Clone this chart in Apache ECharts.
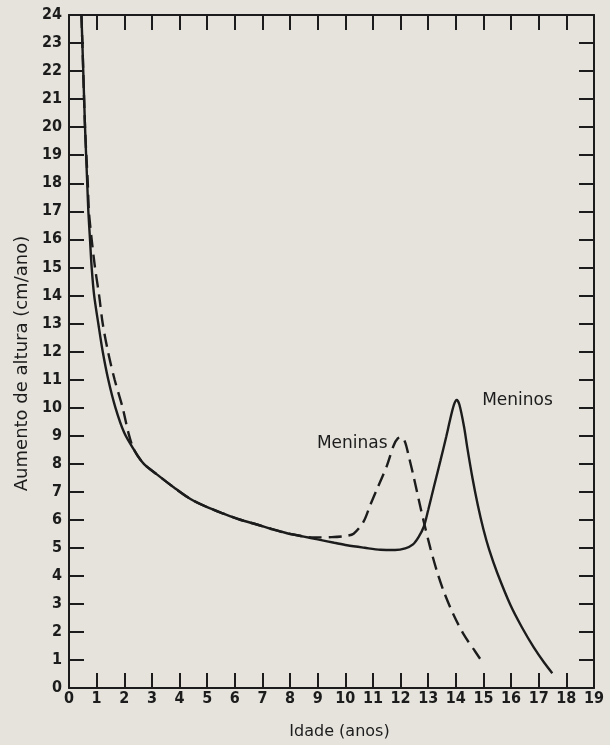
<!DOCTYPE html>
<html>
<head>
<meta charset="utf-8">
<script src="https://cdn.jsdelivr.net/npm/echarts@6/dist/echarts.min.js"></script>
<style>
html,body{margin:0;padding:0;background:#e4e2da;}
#chart{width:610px;height:745px;}
</style>
</head>
<body>
<div id="chart"></div>
<script>
// Age axis (years) and ticks
var xTickLabels = ['0','1','2','3','4','5','6','7','8','9','10','11','12','13','14','15','16','17','18','19'];
var yTickLabels = ['0','1','2','3','4','5','6','7','8','9','10','11','12','13','14','15','16','17','18','19','20','21','22','23','24'];

// Meninos (solid)
var boysAge  = [0.45,0.5,0.58,0.66,0.7,0.76,0.82,0.91,1.06,1.22,1.42,1.68,2.0,2.35,2.7,3.18,3.8,4.38,5.0,5.59,6.2,6.8,7.3,7.89,8.5,9.0,9.6,10.06,10.7,11.27,11.8,12.17,12.45,12.65,12.84,13.0,13.2,13.44,13.65,13.8,13.93,14.03,14.13,14.3,14.41,14.6,14.8,15.0,15.2,15.5,15.98,16.4,16.82,17.2,17.49];
var boysRate = [24,22.5,20,18,17,16,15,14,13,12,11,10,9.1,8.5,8.0,7.62,7.15,6.75,6.45,6.22,6.0,5.83,5.68,5.52,5.4,5.3,5.18,5.09,5.0,4.93,4.92,4.98,5.12,5.38,5.75,6.35,7.15,8.1,8.95,9.6,10.1,10.27,10.1,9.3,8.6,7.5,6.5,5.65,4.95,4.1,2.95,2.15,1.45,0.9,0.53];

// Meninas (dashed)
var girlsAge  = [0.45,0.5,0.58,0.68,0.72,0.82,0.94,1.09,1.22,1.41,1.65,1.94,2.15,2.35,2.7,3.18,3.8,4.38,5.0,5.59,6.2,6.8,7.3,7.89,8.4,8.84,9.5,10.0,10.3,10.66,10.9,11.15,11.51,11.75,11.9,12.05,12.17,12.3,12.47,12.65,12.84,13.08,13.32,13.56,13.9,14.29,14.7,15.01];
var girlsRate = [24,22.5,20,18,17,16,15,14,13,12,11,10,9.1,8.5,8.0,7.62,7.15,6.75,6.45,6.22,6.0,5.83,5.68,5.52,5.42,5.37,5.38,5.42,5.5,5.93,6.52,7.1,7.94,8.65,8.9,8.95,8.75,8.25,7.55,6.75,5.93,4.98,4.15,3.45,2.65,1.9,1.3,0.85];

var seriesNames = ['Meninos','Meninas'];
var boysLabelAt = [16.23, 10.24];
var girlsLabelAt = [10.25, 8.72];

function zip(a,b){ return a.map(function(v,i){ return [v,b[i]]; }); }

var ink = '#1c1c1c';
var tickFont = "'DejaVu Sans Condensed','Liberation Sans Narrow','Liberation Sans',sans-serif";
var textFont = "'DejaVu Sans','Liberation Sans',sans-serif";

function xAxisDef(pos, showLabels){
  return {
    type:'value', min:0, max:19, interval:1, position:pos,
    axisLine:{show:true, onZero:false, lineStyle:{color:ink, width:2}},
    axisTick:{show:true, inside:true, length:15, lineStyle:{color:ink, width:2}},
    axisLabel:{show:showLabels, margin:3, fontSize:16, fontWeight:'bold', color:ink, fontFamily:tickFont,
      formatter:function(v){ return xTickLabels[Math.round(v)]; }},
    splitLine:{show:false}
  };
}
function yAxisDef(pos, showLabels){
  return {
    type:'value', min:0, max:24, interval:1, position:pos,
    axisLine:{show:true, onZero:false, lineStyle:{color:ink, width:2}},
    axisTick:{show:true, inside:true, length:15, lineStyle:{color:ink, width:2}},
    axisLabel:{show:showLabels, margin:7, fontSize:16, fontWeight:'bold', color:ink, fontFamily:tickFont,
      formatter:function(v){ return yTickLabels[Math.round(v)]; }},
    splitLine:{show:false}
  };
}

var xb = xAxisDef('bottom', true);
xb.name = 'Idade (anos)';
xb.nameLocation = 'middle';
xb.nameGap = 36;
xb.nameTextStyle = {fontSize:16, color:ink, fontFamily:textFont, padding:[0,0,0,16]};
var yl = yAxisDef('left', true);
yl.name = 'Aumento de altura (cm/ano)';
yl.nameLocation = 'middle';
yl.nameRotate = 90;
yl.nameGap = 30;
yl.nameTextStyle = {fontSize:18, color:ink, fontFamily:textFont, padding:[0,24,0,0]};

var chart = echarts.init(document.getElementById('chart'), null, {renderer:'canvas'});
chart.setOption({
  backgroundColor:'#e5e3dc',
  animation:false,
  grid:{left:69, right:16, top:15, bottom:55},
  xAxis:[xb, xAxisDef('top', false)],
  yAxis:[yl, yAxisDef('right', false)],
  series:[
    {
      name:seriesNames[0], type:'line', xAxisIndex:0, yAxisIndex:0,
      data:zip(boysAge, boysRate), showSymbol:false, smooth:0.3,
      lineStyle:{color:ink, width:2.4, type:'solid'},
      markPoint:{symbol:'circle', symbolSize:0, silent:true,
        data:[{coord:boysLabelAt}],
        label:{show:true, position:'inside', formatter:seriesNames[0], fontSize:17, color:ink, fontFamily:textFont}}
    },
    {
      name:seriesNames[1], type:'line', xAxisIndex:0, yAxisIndex:0,
      data:zip(girlsAge, girlsRate), showSymbol:false, smooth:0.3,
      lineStyle:{color:ink, width:2.4, type:[13,7]},
      markPoint:{symbol:'circle', symbolSize:0, silent:true,
        data:[{coord:girlsLabelAt}],
        label:{show:true, position:'inside', formatter:seriesNames[1], fontSize:17, color:ink, fontFamily:textFont}}
    }
  ]
});
</script>
</body>
</html>
